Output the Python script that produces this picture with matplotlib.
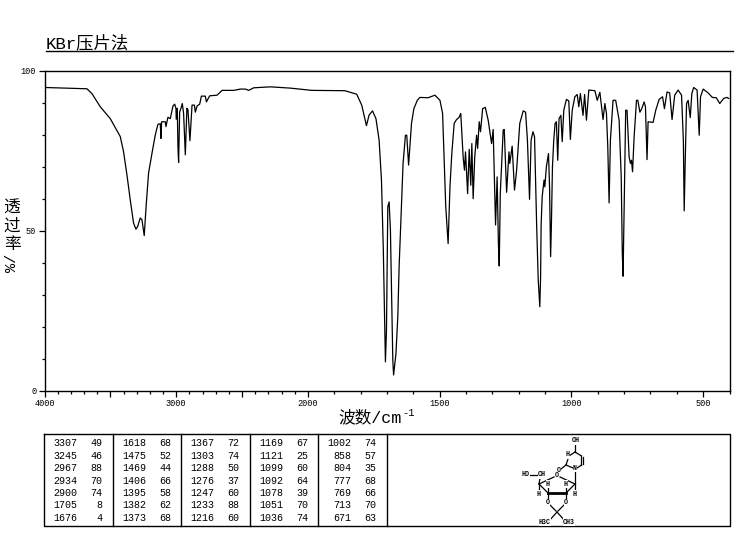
"""
IR spectrum (KBr pellet) with peak table and structure sketch
"""

import matplotlib

matplotlib.use("Agg")
import matplotlib.pyplot as plt
import numpy as np

plt.rcParams["font.family"] = ["Liberation Mono", "Noto Sans CJK SC", "DejaVu Sans"]

# spectrum
WAVENUMBER = [
    4000, 3678, 3640, 3577, 3501, 3425, 3400, 3374, 3349, 3324, 3306, 3293, 3273, 3260, 3243, 3227,
    3210, 3184, 3159, 3139, 3121, 3116, 3111, 3083, 3078, 3063, 3045, 3025, 3012, 3002, 3000, 2992,
    2987, 2982, 2974, 2964, 2954, 2944, 2931, 2919, 2911, 2896, 2880, 2862, 2855, 2842, 2822, 2809,
    2779, 2771, 2746, 2690, 2652, 2564, 2513, 2475, 2450, 2412, 2285, 2133, 1986, 1860, 1815, 1796,
    1778, 1768, 1755, 1742, 1730, 1721, 1714, 1709, 1706, 1702, 1697, 1692, 1687, 1682, 1678, 1675,
    1666, 1659, 1654, 1646, 1639, 1630, 1625, 1618, 1613, 1607, 1598, 1585, 1575, 1544, 1518, 1499,
    1489, 1483, 1477, 1470, 1468, 1461, 1454, 1445, 1436, 1427, 1420, 1411, 1406, 1402, 1394, 1388,
    1382, 1378, 1373, 1367, 1360, 1356, 1350, 1345, 1337, 1327, 1316, 1303, 1297, 1288, 1282, 1277,
    1274, 1270, 1259, 1255, 1246, 1237, 1234, 1225, 1216, 1208, 1196, 1183, 1174, 1167, 1159, 1153,
    1146, 1140, 1132, 1126, 1120, 1117, 1115, 1111, 1104, 1101, 1095, 1087, 1083, 1079, 1076, 1072,
    1067, 1062, 1057, 1052, 1047, 1040, 1035, 1029, 1019, 1010, 1004, 997, 987, 978, 972, 966,
    956, 950, 943, 934, 911, 902, 892, 880, 873, 867, 862, 857, 852, 842, 832, 819,
    811, 807, 804, 799, 794, 789, 781, 776, 772, 768, 762, 753, 748, 740, 733, 724,
    719, 715, 713, 709, 690, 680, 667, 654, 647, 637, 627, 618, 608, 595, 582, 575,
    572, 568, 563, 557, 549, 543, 536, 523, 515, 510, 500, 481, 465, 450, 437, 422,
    410, 403,
]
TRANSMITTANCE = [
    94.7, 94.3, 92.8, 88.7, 85.0, 79.4, 74.7, 67.4, 59.6, 52.4, 50.5, 51.3, 54.0, 53.4, 48.5, 58.6,
    68.0, 74.2, 79.9, 83.2, 83.4, 78.8, 84.0, 84.0, 82.5, 85.4, 85.0, 88.9, 89.5, 88.2, 84.8, 88.2,
    76.2, 71.3, 87.1, 88.2, 89.7, 86.6, 73.7, 88.2, 87.7, 78.1, 89.2, 89.2, 87.0, 88.9, 89.5, 92.0,
    92.0, 90.2, 92.1, 92.3, 93.8, 93.8, 94.2, 94.2, 93.8, 94.6, 94.9, 94.5, 93.8, 93.7, 92.6, 89.2,
    82.8, 86.1, 87.4, 85.0, 78.3, 65.8, 44.0, 23.2, 9.1, 19.0, 57.5, 59.0, 50.2, 28.4, 9.7, 5.0,
    11.7, 23.2, 38.8, 56.4, 71.0, 79.8, 79.8, 70.5, 76.2, 83.5, 88.1, 90.7, 91.6, 91.5, 92.3, 90.7,
    86.6, 72.0, 57.5, 48.6, 46.0, 63.7, 74.1, 83.5, 84.7, 85.3, 86.6, 73.0, 68.9, 74.6, 61.6, 75.4,
    64.2, 77.2, 60.0, 73.0, 79.8, 75.7, 84.0, 80.9, 88.1, 88.5, 84.5, 77.2, 81.6, 51.8, 66.8, 45.5,
    39.0, 61.6, 81.4, 81.6, 62.0, 74.6, 71.0, 76.4, 62.7, 68.9, 83.5, 87.4, 87.0, 78.3, 59.8, 78.3,
    80.9, 79.3, 51.8, 34.6, 26.3, 35.6, 51.8, 60.6, 65.8, 63.7, 70.0, 74.1, 63.7, 41.9, 51.8, 70.0,
    78.3, 83.5, 84.0, 72.0, 85.0, 86.0, 77.8, 87.6, 91.0, 90.5, 78.5, 87.6, 91.8, 92.5, 88.7, 92.8,
    86.0, 92.5, 84.5, 93.9, 93.7, 90.7, 93.2, 84.7, 89.7, 86.6, 76.2, 58.7, 78.3, 90.7, 90.7, 84.5,
    66.8, 43.4, 35.8, 61.6, 87.6, 87.6, 73.0, 71.0, 72.0, 68.4, 79.3, 90.7, 90.7, 87.0, 88.1, 90.2,
    88.7, 77.8, 72.2, 84.0, 83.8, 87.6, 91.0, 91.8, 88.1, 93.3, 93.0, 84.7, 92.3, 93.9, 92.3, 77.8,
    56.2, 72.0, 89.7, 90.7, 85.3, 92.8, 94.7, 93.9, 79.8, 91.8, 94.2, 93.0, 91.6, 91.5, 89.7, 91.3,
    91.6, 91.3,
]

# peak table, one list per column
PEAK_WN = [
    [3307, 3245, 2967, 2934, 2900, 1705, 1676],
    [1618, 1475, 1469, 1406, 1395, 1382, 1373],
    [1367, 1303, 1288, 1276, 1247, 1233, 1216],
    [1169, 1121, 1099, 1092, 1078, 1051, 1036],
    [1002, 858, 804, 777, 769, 713, 671],
]
PEAK_T = [
    [49, 46, 88, 70, 74, 8, 4],
    [68, 52, 44, 66, 58, 62, 68],
    [72, 74, 50, 37, 60, 88, 60],
    [67, 25, 60, 64, 39, 70, 74],
    [74, 57, 35, 68, 66, 70, 63],
]

X_BREAKS = [400, 2000, 4000]
X_POSITIONS = [0, 1600, 2600]
X_LABELLED = [4000, 3000, 2000, 1500, 1000, 500]

# structure sketch, read as pixels of the figure
BONDS = [
    ((575, 444), (575, 452)), ((575, 452), (569, 456)), ((575, 452), (581.5, 456)),
    ((581.5, 456), (581.5, 465)), ((583, 457), (583, 464)), ((581.5, 465), (577, 468)),
    ((573, 468), (566, 465)), ((566, 465), (568, 459)), ((566, 465), (561, 469)),
    ((575, 471), (575, 484)), ((575, 484), (560, 477)), ((554, 477), (539, 484)),
    ((539, 484), (548, 493)), ((566, 493), (575, 484)), ((539, 484), (540, 478)),
    ((530, 475), (537, 475)), ((539, 484), (539, 491)), ((575, 484), (575, 491)),
    ((548, 493), (548, 486)), ((566, 493), (566, 486)), ((548, 493), (548, 501)),
    ((566, 493), (566, 501)), ((550, 505), (556, 511)), ((564, 505), (558, 511)),
    ((557, 512), (549, 521)), ((557, 512), (565, 521)),
]
THICK_BOND = ((548, 493), (566, 493))
ATOMS = [
    (576, 441, "OH"), (567.5, 455, "H"), (575, 468, "N"), (559, 470, "O"),
    (557, 475.5, "O"), (526, 475, "HO"), (542, 475, "CH"), (548, 484, "H"),
    (566, 484, "H"), (539, 494, "H"), (575, 494, "H"), (548, 503, "O"),
    (566, 503, "O"), (545, 522, "H3C"), (569, 522, "CH3"),
]

W, H = 737, 539

fig = plt.figure(figsize=(W / 100, H / 100), dpi=100)

# pixel overlay for the title rule, table and sketch
overlay = fig.add_axes([0, 0, 1, 1])
overlay.set_xlim(0, W)
overlay.set_ylim(H, 0)
overlay.axis("off")

ax = fig.add_axes([44.5 / W, 1 - 391 / H, (729.5 - 44.5) / W, (391 - 70.5) / H])
ax.patch.set_alpha(0)


def wn_to_pos(wn):
    # the axis is compressed above 2000 cm-1
    return np.interp(wn, X_BREAKS, X_POSITIONS)


def pos_to_wn(pos):
    return np.interp(pos, X_POSITIONS, X_BREAKS)


ax.set_xscale("function", functions=(wn_to_pos, pos_to_wn))
ax.plot(WAVENUMBER, TRANSMITTANCE, color="black", lw=0.9)
ax.set_xlim(4000, 400)
ax.set_ylim(0, 100)

major_x = list(range(4000, 499, -500))
ax.set_xticks(major_x)
ax.set_xticklabels([str(v) if v in X_LABELLED else "" for v in major_x], fontsize=6.2)
ax.set_xticks(list(range(4000, 399, -100)), minor=True)
ax.set_yticks([0, 50, 100])
ax.set_yticklabels(["0", "50", "100"], fontsize=6.2)
ax.set_yticks(range(0, 101, 10), minor=True)
ax.tick_params(axis="both", which="major", length=4, width=0.9, pad=2)
ax.tick_params(axis="both", which="minor", length=2, width=0.9)
for spine in ax.spines.values():
    spine.set_linewidth(1.0)

# title with rule
overlay.text(46, 43, "KBr压片法", fontsize=12.5, ha="left", va="center")
overlay.plot([46, 733], [50.5, 50.5], color="black", lw=1.0)

# axis labels
overlay.text(338, 417, "波数/cm", fontsize=12, ha="left", va="center")
overlay.text(402, 413, "-1", fontsize=7.5, ha="left", va="center")
for y_pos, char in zip([208, 226, 245], "透过率"):
    overlay.text(12, y_pos, char, fontsize=12, ha="center", va="center")
overlay.text(12, 263, "%/", fontsize=11, rotation=90, ha="center", va="center")

# table box
overlay.plot([44.5, 730, 730, 44.5, 44.5], [434, 434, 526, 526, 434], color="black", lw=1.0)
for x_pos in [113, 181, 250, 318, 387]:
    overlay.plot([x_pos + 0.5, x_pos + 0.5], [434, 526], color="black", lw=1.0)

for col, (wn_col, t_col) in enumerate(zip(PEAK_WN, PEAK_T)):
    left = 44.5 + col * 68.5
    for row, (wn, t) in enumerate(zip(wn_col, t_col)):
        y_pos = 443.5 + row * 12.4
        overlay.text(left + 33, y_pos, str(wn), fontsize=7.2, ha="right", va="center")
        overlay.text(left + 58, y_pos, str(t), fontsize=7.2, ha="right", va="center")

# structure
for start, end in BONDS:
    overlay.plot([start[0], end[0]], [start[1], end[1]], color="black", lw=0.9)
overlay.plot([THICK_BOND[0][0], THICK_BOND[1][0]], [THICK_BOND[0][1], THICK_BOND[1][1]], color="black", lw=2.0)
for x_pos, y_pos, label in ATOMS:
    overlay.text(
        x_pos, y_pos, label, fontsize=4.8, ha="center", va="center", fontweight="bold",
        bbox=dict(facecolor="white", edgecolor="none", pad=0.2),
    )

fig.savefig("out.png", dpi=100)
